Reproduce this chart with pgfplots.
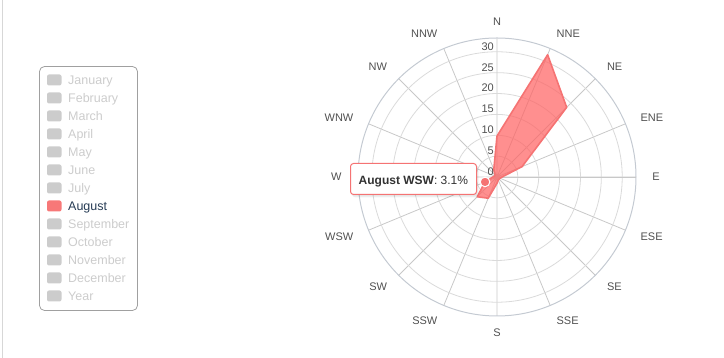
\documentclass[border=0pt]{standalone}
\usepackage{fontspec}
\setmainfont{Liberation Sans}
\usepackage{pgfplots}
\pgfplotsset{compat=1.18}
\usepgfplotslibrary{polar}
\definecolor{gridc}{RGB}{218,218,218}
\definecolor{radc}{RGB}{200,200,200}
\definecolor{axc}{RGB}{196,202,210}
\definecolor{serfill}{RGB}{255,100,100}
\definecolor{serline}{RGB}{245,115,115}
\definecolor{legsym}{RGB}{247,120,120}
\definecolor{hidsym}{RGB}{204,204,204}
\definecolor{hidtext}{RGB}{204,204,204}
\definecolor{showtext}{RGB}{39,60,85}
\definecolor{labc}{RGB}{80,80,80}
\definecolor{legbord}{RGB}{160,160,160}
\definecolor{leftc}{RGB}{215,215,215}
\definecolor{tiptext}{RGB}{51,51,51}
\pgfplotstableread{
angle value
90    9.8
67.5  31.7
45    23.6
22.5  6.5
0     1.2
-22.5 0.8
-45   0.7
-67.5 0.8
-90   1.5
-112.5 5.5
-135  6.7
-157.5 3.1
-180  1.0
-202.5 0.6
-225  0.7
-247.5 2.0
-270  9.8
}\august
\begin{document}
\begin{tikzpicture}[x=1pt,y=1pt]
\path[use as bounding box] (0pt,0pt) rectangle (724pt,358pt);
\draw[leftc, line width=1pt] (2.5pt,0pt) -- (2.5pt,358pt);
% legend
\draw[legbord, rounded corners=5pt, line width=0.8pt] (39.5pt,291.5pt) rectangle (137.5pt,47.5pt);
\foreach \m [count=\i from 0] in {January,February,March,April,May,June,July,August,September,October,November,December,Year} {
  \pgfmathsetmacro\yy{358-80-18*\i}
  \ifnum\i=7
    \fill[legsym, rounded corners=2pt] (47pt,\yy pt-5.5pt) rectangle (61.5pt,\yy pt+5.5pt);
    \node[anchor=base west, font=\fontsize{12.5}{14}\selectfont, text=showtext, inner sep=0] at (68pt,\yy pt-4.4pt) {\m};
  \else
    \fill[hidsym, rounded corners=2pt] (47pt,\yy pt-5.5pt) rectangle (61.5pt,\yy pt+5.5pt);
    \node[anchor=base west, font=\fontsize{12.5}{14}\selectfont, text=hidtext, inner sep=0] at (68pt,\yy pt-4.4pt) {\m};
  \fi
}
\begin{polaraxis}[
  at={(497pt,181pt)}, anchor=center,
  scale only axis, width=278pt, height=278pt,
  xmin=0, xmax=360, ymin=0, ymax=33.3,
  xtick={0,22.5,...,337.5}, xticklabels={},
  ytick={5,10,...,30}, yticklabels={},
  xmajorgrids, ymajorgrids,
  x grid style={draw=radc, line width=0.8pt},
  y grid style={draw=gridc, line width=0.8pt},
  x axis line style={draw=axc, line width=1pt},
  y axis line style={draw=radc, line width=0.8pt},
  tick style={draw=none},
  clip=false,
  every axis plot/.append style={line join=round},
]
\addplot[fill=serfill, fill opacity=0.72, draw=serline, draw opacity=1, line width=1.6pt] table[x=angle,y=value] {\august};
\addplot[only marks, mark=*, mark size=4.8pt, mark options={fill=serline, draw=white, line width=1pt}] coordinates {(-157.5,3.1)};
% category labels
\def\R{37.2}
\tikzset{cl/.style={font=\fontsize{11}{13}\selectfont, text=labc, inner sep=0}}
\node[cl, anchor=center] at (axis cs:90,\R) {N};
\node[cl, anchor=west] at (axis cs:67.5,\R) {NNE};
\node[cl, anchor=west] at (axis cs:45,\R) {NE};
\node[cl, anchor=west] at (axis cs:22.5,\R) {ENE};
\node[cl, anchor=west] at (axis cs:0,\R) {E};
\node[cl, anchor=west] at (axis cs:-22.5,\R) {ESE};
\node[cl, anchor=west] at (axis cs:-45,\R) {SE};
\node[cl, anchor=west] at (axis cs:-67.5,\R) {SSE};
\node[cl, anchor=center] at (axis cs:-90,\R) {S};
\node[cl, anchor=east] at (axis cs:-112.5,\R) {SSW};
\node[cl, anchor=east] at (axis cs:-135,\R) {SW};
\node[cl, anchor=east] at (axis cs:-157.5,\R) {WSW};
\node[cl, anchor=east] at (axis cs:180,\R) {W};
\node[cl, anchor=east] at (axis cs:157.5,\R) {WNW};
\node[cl, anchor=east] at (axis cs:135,\R) {NW};
\node[cl, anchor=east] at (axis cs:112.5,\R) {NNW};
% radial tick labels
\foreach \v in {0,5,10,15,20,25,30} {
  \edef\tmp{\noexpand\node[cl, anchor=east, xshift=-3pt, yshift=5.3pt] at (axis cs:90,\v) {\v};}
  \tmp
}
\end{polaraxis}
% tooltip
\fill[black, opacity=0.05, rounded corners=3pt] (352.5pt,160.5pt) rectangle (478.5pt,192.5pt);
\fill[black, opacity=0.05, rounded corners=3pt] (351.5pt,161.5pt) rectangle (477.5pt,193.5pt);
\filldraw[fill=white, draw=serline, line width=1pt, rounded corners=3pt] (350.5pt,194.5pt) rectangle (476.5pt,163.5pt);
\node[anchor=base west, inner sep=0, font=\fontsize{12}{14}\selectfont, text=tiptext] at (358.5pt,173pt) {\textbf{August WSW}: 3.1\%};
\end{tikzpicture}
\end{document}
